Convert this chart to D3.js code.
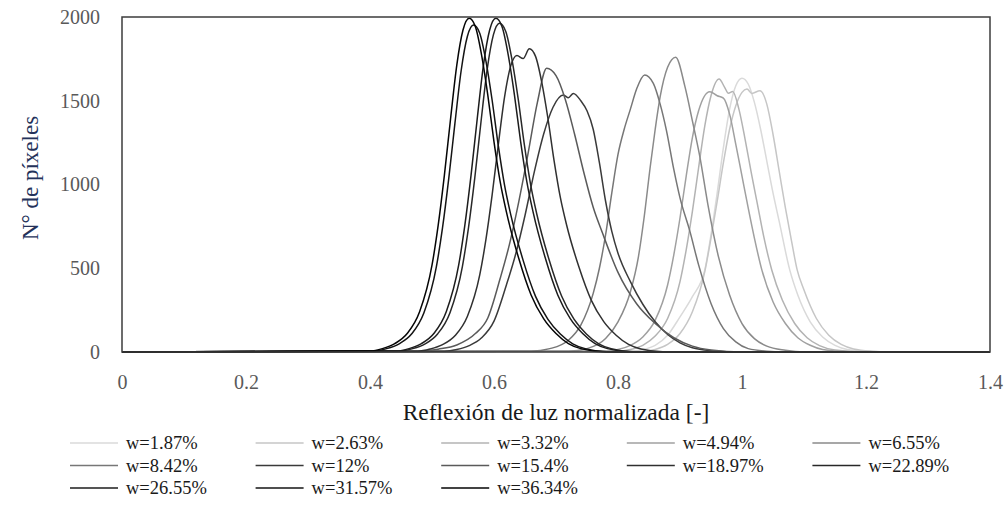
<!DOCTYPE html>
<html><head><meta charset="utf-8">
<script src="https://cdn.jsdelivr.net/npm/d3@7"></script>
<style>body{margin:0;background:#fff}</style></head>
<body><svg id="chart" width="1006" height="520"></svg>
<script>
// ---- data ----
const seriesNames = ["w=1.87%","w=2.63%","w=3.32%","w=4.94%","w=6.55%","w=8.42%","w=12%","w=15.4%","w=18.97%","w=22.89%","w=26.55%","w=31.57%","w=36.34%"];

const w187 = [[0.82,5],[0.84,15],[0.86,40],[0.88,100],[0.90,210],[0.92,330],[0.94,490],[0.95,700],[0.96,950],[0.97,1220],[0.98,1450],[0.99,1590],[1.0,1635],[1.01,1600],[1.02,1490],[1.03,1330],[1.04,1140],[1.05,950],[1.06,780],[1.077,490],[1.09,340],[1.11,180],[1.13,90],[1.15,40],[1.17,15],[1.2,4],[1.24,0]];
const w263 = [[0.84,5],[0.86,15],[0.88,45],[0.90,110],[0.92,240],[0.94,480],[0.95,680],[0.96,900],[0.97,1130],[0.98,1330],[0.99,1470],[1.0,1550],[1.008,1570],[1.016,1544],[1.029,1560],[1.04,1480],[1.05,1300],[1.06,1080],[1.07,860],[1.08,660],[1.089,490],[1.10,370],[1.12,200],[1.14,100],[1.16,45],[1.18,18],[1.21,5],[1.25,0]];
const w332 = [[0.80,5],[0.82,15],[0.84,40],[0.86,95],[0.88,200],[0.90,420],[0.91,610],[0.92,840],[0.93,1100],[0.94,1350],[0.95,1530],[0.963,1630],[0.972,1580],[0.978,1545],[0.985,1555],[0.995,1450],[1.005,1270],[1.015,1070],[1.025,880],[1.035,690],[1.048,490],[1.065,310],[1.085,170],[1.105,85],[1.125,38],[1.15,12],[1.2,0]];
const w494 = [[0.78,5],[0.80,15],[0.82,40],[0.84,90],[0.86,190],[0.88,400],[0.89,580],[0.90,800],[0.91,1050],[0.92,1280],[0.93,1440],[0.948,1554],[0.96,1530],[0.97,1516],[0.98,1420],[0.99,1240],[1.00,1050],[1.01,860],[1.02,680],[1.032,490],[1.05,300],[1.07,170],[1.09,85],[1.11,40],[1.13,15],[1.16,4],[1.2,0]];
const w655 = [[0.72,5],[0.75,20],[0.78,80],[0.80,180],[0.82,360],[0.833,570],[0.842,800],[0.852,1106],[0.86,1330],[0.868,1524],[0.88,1700],[0.893,1760],[0.908,1584],[0.92,1380],[0.932,1166],[0.945,880],[0.962,569],[0.98,340],[1.0,170],[1.02,80],[1.04,35],[1.07,10],[1.10,0]];
const w842 = [[0.66,5],[0.69,20],[0.72,70],[0.74,160],[0.76,350],[0.77,500],[0.78,700],[0.79,950],[0.80,1180],[0.81,1330],[0.82,1450],[0.83,1570],[0.843,1654],[0.857,1604],[0.868,1480],[0.878,1325],[0.89,1090],[0.90,920],[0.916,720],[0.93,520],[0.95,290],[0.97,140],[0.99,60],[1.01,20],[1.04,5],[1.08,0]];
const w12 = [[0.52,5],[0.54,15],[0.56,38],[0.58,85],[0.60,184],[0.62,400],[0.635,585],[0.65,815],[0.665,1075],[0.68,1300],[0.695,1460],[0.712,1534],[0.72,1518],[0.728,1544],[0.74,1500],[0.75,1440],[0.76,1330],[0.77,1130],[0.78,900],[0.79,720],[0.80,590],[0.82,420],[0.84,285],[0.86,180],[0.88,105],[0.90,55],[0.92,25],[0.95,8],[1.0,0]];
const w154 = [[0.48,5],[0.51,17],[0.54,42],[0.57,110],[0.59,203],[0.61,440],[0.625,644],[0.64,898],[0.655,1186],[0.67,1490],[0.685,1694],[0.70,1650],[0.715,1508],[0.73,1300],[0.745,1070],[0.76,864],[0.775,710],[0.80,475],[0.83,288],[0.86,170],[0.89,85],[0.92,35],[0.95,12],[1.0,0]];
const w1897 = [[0.477,5],[0.497,18],[0.517,44],[0.537,97],[0.557,212],[0.577,460],[0.587,672],[0.597,938],[0.607,1239],[0.617,1522],[0.627,1708],[0.637,1770],[0.647,1752],[0.657,1810],[0.667,1765],[0.677,1611],[0.687,1394],[0.697,1140],[0.707,923],[0.717,760],[0.737,507],[0.757,308],[0.777,181],[0.797,100],[0.817,45],[0.837,18],[0.877,0]];
const w2289 = [[0.449,6],[0.469,20],[0.489,49],[0.509,108],[0.529,235],[0.549,510],[0.559,746],[0.569,1040],[0.579,1373],[0.589,1687],[0.599,1893],[0.609,1962],[0.619,1913],[0.629,1746],[0.639,1511],[0.649,1236],[0.659,1001],[0.669,824],[0.689,549],[0.709,334],[0.729,196],[0.749,108],[0.769,49],[0.789,20],[0.829,0]];
const w2655 = [[0.443,6],[0.463,20],[0.483,50],[0.503,110],[0.523,240],[0.543,518],[0.553,757],[0.563,1056],[0.573,1394],[0.583,1713],[0.593,1922],[0.603,1992],[0.613,1942],[0.623,1773],[0.633,1534],[0.643,1255],[0.653,1016],[0.663,837],[0.683,558],[0.703,339],[0.723,199],[0.743,110],[0.763,50],[0.783,20],[0.823,0]];
const w3157 = [[0.407,6],[0.427,20],[0.447,49],[0.467,107],[0.487,234],[0.507,508],[0.517,742],[0.527,1035],[0.537,1366],[0.547,1679],[0.557,1884],[0.567,1952],[0.577,1903],[0.587,1737],[0.597,1503],[0.607,1230],[0.617,996],[0.627,820],[0.647,547],[0.667,332],[0.687,195],[0.707,107],[0.727,49],[0.747,20],[0.787,0]];
const w3634 = [[0.40,6],[0.42,20],[0.44,50],[0.46,110],[0.48,240],[0.50,518],[0.51,757],[0.52,1056],[0.53,1394],[0.54,1713],[0.55,1922],[0.56,1992],[0.57,1942],[0.58,1773],[0.59,1534],[0.60,1255],[0.61,1016],[0.62,837],[0.64,558],[0.66,339],[0.68,199],[0.70,110],[0.72,50],[0.74,20],[0.78,0]];

const seriesValues = [w187,w263,w332,w494,w655,w842,w12,w154,w1897,w2289,w2655,w3157,w3634];

const xTicks = [0,0.2,0.4,0.6,0.8,1,1.2,1.4];
const xTickLabels = ["0","0.2","0.4","0.6","0.8","1","1.2","1.4"];
const yTicks = [0,500,1000,1500,2000];
const yTickLabels = ["0","500","1000","1500","2000"];
const xTitle = "Reflexión de luz normalizada [-]";
const yTitle = "N° de píxeles";

// ---- styles ----
const lineColors = ["#dadada","#c6c6c6","#b3b3b3","#a0a0a0","#8a8a8a","#777777","#3a3a3a","#5a5a5a","#303030","#282828","#1c1c1c","#141414","#050505"];
const FONT = "'Liberation Serif','Times New Roman',serif";

const svg = d3.select("#chart");
const L = 122, R = 990, T = 17, B = 352;
const x = d3.scaleLinear().domain([0,1.4]).range([L,R]);
const y = d3.scaleLinear().domain([0,2000]).range([B,T]);

const line = d3.line().x(d=>x(d[0])).y(d=>y(d[1])).curve(d3.curveMonotoneX);
const xd = x.domain();

const g = svg.append("g");
seriesValues.forEach((pts,i)=>{
  const full = [[xd[0],0]].concat(pts,[[xd[1],0]]);
  g.append("path").attr("d", line(full)).attr("fill","none")
   .attr("stroke", lineColors[i]).attr("stroke-width",1.5);
});

// frame
svg.append("rect").attr("x",L).attr("y",T).attr("width",R-L).attr("height",B-T)
  .attr("fill","none").attr("stroke","#3c3c3c").attr("stroke-width",1.5);

// axes
const xAxis = d3.axisBottom(x).tickValues(xTicks).tickSize(0).tickPadding(23)
  .tickFormat((d,i)=>xTickLabels[i]);
const gx = svg.append("g").attr("transform",`translate(0,${B})`).call(xAxis);
gx.select(".domain").remove();
gx.selectAll("text").attr("font-family",FONT).attr("font-size",20).attr("fill","#595959");

const yAxis = d3.axisLeft(y).tickValues(yTicks).tickSize(0).tickPadding(22)
  .tickFormat((d,i)=>yTickLabels[i]);
const gy = svg.append("g").attr("transform",`translate(${L},0)`).call(yAxis);
gy.select(".domain").remove();
gy.selectAll("text").attr("font-family",FONT).attr("font-size",20).attr("fill","#595959");

// titles
svg.append("text").attr("x",(L+R)/2).attr("y",420).attr("text-anchor","middle")
  .attr("font-family",FONT).attr("font-size",23.5).attr("fill","#1a1a1a").text(xTitle);
svg.append("text").attr("transform","translate(38,178) rotate(-90)").attr("text-anchor","middle")
  .attr("font-family",FONT).attr("font-size",23).attr("fill","#24325a").text(yTitle);

// legend
const colX0 = 70, colStep = 185.6, rowY0 = 443, rowStep = 22.5;
seriesNames.forEach((name,i)=>{
  const c = i % 5, r = Math.floor(i/5);
  const lx = colX0 + c*colStep, ly = rowY0 + r*rowStep;
  svg.append("line").attr("x1",lx).attr("x2",lx+48).attr("y1",ly).attr("y2",ly)
    .attr("stroke",lineColors[i]).attr("stroke-width",1.5);
  svg.append("text").attr("x",lx+56).attr("y",ly).attr("dy","0.35em")
    .attr("font-family",FONT).attr("font-size",18.5).attr("fill","#1a1a1a").text(name);
});
</script></body></html>
